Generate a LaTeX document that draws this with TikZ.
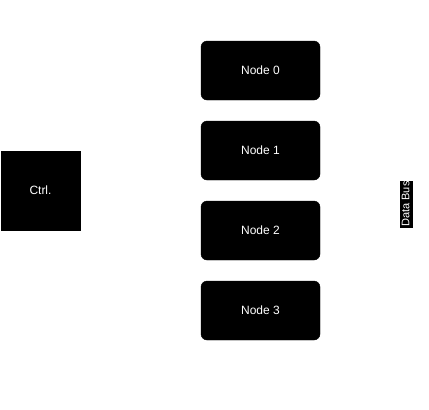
\documentclass[tikz,border=0pt]{standalone}
\usepackage{fontspec}
\setmainfont{Liberation Sans}
\begin{document}
\begin{tikzpicture}[x=1pt, y=-1pt]
  \useasboundingbox [fill=white] (0, 0) rectangle (429, 410);  % Rahmen wie Vorlage.

  \tikzstyle{block}=[draw=black, fill=black, text=white, font=\fontsize{12}{14}\selectfont, inner sep=0pt]
  \tikzstyle{ctrl}=[block, minimum width=79pt, minimum height=79pt]
  \tikzstyle{unit}=[block, rounded corners=6pt, minimum width=119pt, minimum height=59pt]
  \tikzstyle{bus}=[block, rotate=90, font=\fontsize{11}{13}\selectfont, inner sep=0.5pt, minimum height=12pt]

  \node[ctrl] (ctrl) at (40.5, 190.5) {Ctrl.};
  \node[unit] (n0) at (260.5, 70.5)  {Node 0};
  \node[unit] (n1) at (260.5, 150.5) {Node 1};
  \node[unit] (n2) at (260.5, 230.5) {Node 2};
  \node[unit] (n3) at (260.5, 310.5) {Node 3};
  \node[bus] (bus) at (405.75, 204) {Data Bus};
\end{tikzpicture}
\end{document}
